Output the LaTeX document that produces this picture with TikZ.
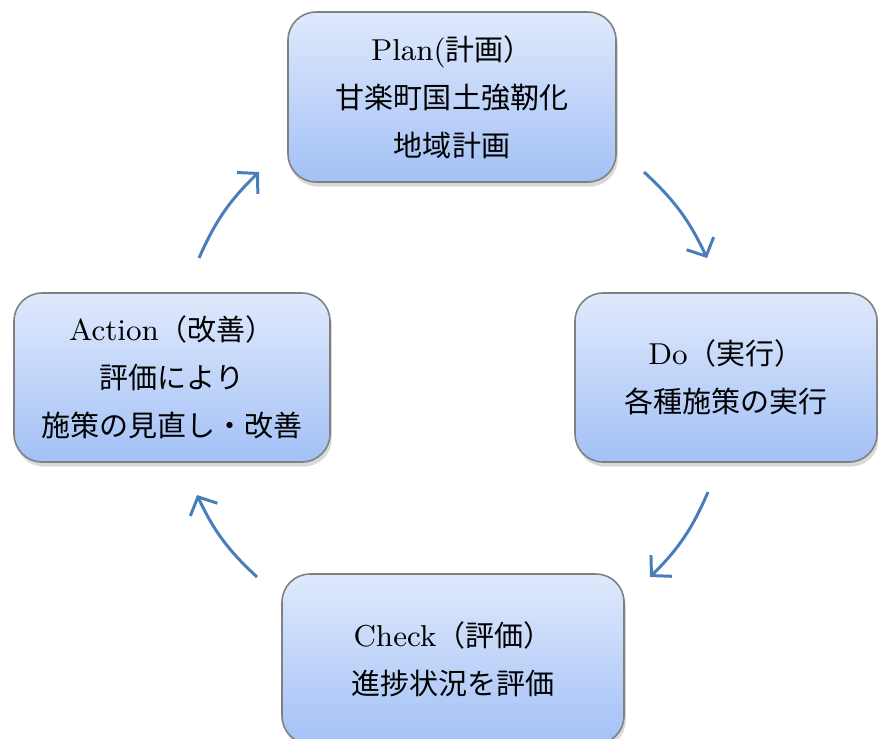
\documentclass[tikz,border=0pt]{standalone}
\usepackage{fontspec}
\newfontfamily\cjk[Scale=0.96]{Noto Sans CJK JP}
\usepackage{xcolor}
\definecolor{pdcab}{RGB}{74,126,187}
\definecolor{boxtop}{RGB}{223,233,252}
\definecolor{boxbot}{RGB}{163,193,246}
\usetikzlibrary{arrows.meta,shadows}
\tikzset{
  pdcabox/.style={rounded corners=0.28cm,draw=black!50,line width=0.45pt,
    top color=boxtop,bottom color=boxbot,
    drop shadow={shadow xshift=0.5pt,shadow yshift=-1.3pt,opacity=0.3},
    align=center,inner sep=0pt,font=\fontsize{8.6}{13.7}\selectfont},
  pdcarrow/.style={pdcab,line width=0.85pt,-{Straight Barb[length=4pt,width=8.5pt]}},
}

\begin{document}
\begin{tikzpicture}
\useasboundingbox (0,0) rectangle (8.78,-7.38);
\node[pdcabox,minimum width=3.28cm,minimum height=1.70cm] (plan) at (4.52,-0.97)
  {Plan({\cjk 計画）}\\{\cjk 甘楽町国土強靭化}\\{\cjk 地域計画}};
\node[pdcabox,minimum width=3.02cm,minimum height=1.69cm] (do) at (7.26,-3.775)
  {Do{\cjk （実行）}\\{\cjk 各種施策の実行}};
\node[pdcabox,minimum width=3.42cm,minimum height=1.70cm] (check) at (4.53,-6.59)
  {Check{\cjk （評価）}\\{\cjk 進捗状況を評価}};
\node[pdcabox,minimum width=3.16cm,minimum height=1.69cm] (action) at (1.72,-3.775)
  {Action{\cjk （改善）}\\{\cjk 評価により}\\{\cjk 施策の見直し・改善}};
\coordinate (pd1) at (6.44,-1.72);
\coordinate (pd2) at (7.07,-2.58);
\coordinate (dc1) at (7.08,-4.92);
\coordinate (dc2) at (6.50,-5.77);
\coordinate (ca1) at (2.57,-5.77);
\coordinate (ca2) at (1.97,-4.95);
\coordinate (ap1) at (1.99,-2.58);
\coordinate (ap2) at (2.59,-1.72);
\draw[pdcarrow] (pd1) to[bend left=11] (pd2);
\draw[pdcarrow] (dc1) to[bend left=11] (dc2);
\draw[pdcarrow] (ca1) to[bend left=11] (ca2);
\draw[pdcarrow] (ap1) to[bend left=11] (ap2);
\end{tikzpicture}
\end{document}
